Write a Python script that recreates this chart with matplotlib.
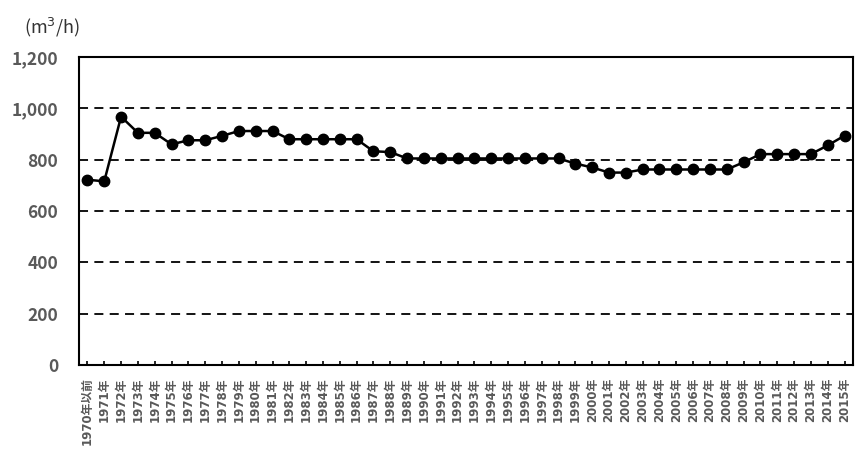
import matplotlib
matplotlib.use("Agg")
import matplotlib.pyplot as plt

# 年別の値 (m3/h)
years = ["1970年以前"] + [f"{y}年" for y in range(1971, 2016)]
values = [722, 716, 968, 905, 905, 860, 876, 876, 893, 912,
          912, 912, 880, 880, 880, 880, 880, 833, 830, 805,
          805, 805, 805, 805, 805, 805, 805, 805, 805, 785,
          770, 750, 750, 762, 762, 762, 762, 762, 762, 790,
          822, 822, 822, 822, 856, 894]
yticks = [0, 200, 400, 600, 800, 1000, 1200]

plt.rcParams["font.family"] = ["Noto Sans CJK JP", "DejaVu Sans"]

fig = plt.figure(figsize=(8.57, 4.5), dpi=100)
ax = fig.add_axes([0.0922, 0.189, 0.9031, 0.684])

x = list(range(len(years)))
ax.plot(x, values, color="black", lw=1.8, marker="o", ms=7.5, zorder=3)

for v in yticks[1:-1]:
    ax.axhline(v, color="black", lw=1.3, ls=(0, (5, 3.5)), zorder=1)

ax.set_xlim(-0.5, len(years) - 0.5)
ax.set_ylim(0, 1200)
ax.set_yticks(yticks)
ax.set_yticklabels([f"{v:,}" for v in yticks], fontsize=12.5,
                   fontweight="bold", color="#595959")
ax.set_xticks(x)
ax.set_xticklabels(years, rotation=90, fontsize=8.5, fontweight="bold",
                   color="#595959", va="top",
                   family=["DejaVu Sans", "Noto Sans CJK JP"])
ax.tick_params(axis="x", direction="in", length=3, width=1.2, pad=9)
ax.tick_params(axis="y", length=0, pad=15)
for s in ax.spines.values():
    s.set_color("black")
    s.set_linewidth(1.5)

fig.text(0.028, 0.94, "(m$^3$/h)", fontsize=13, color="#333333",
         ha="left", va="center")

fig.savefig("out.png", dpi=100)
